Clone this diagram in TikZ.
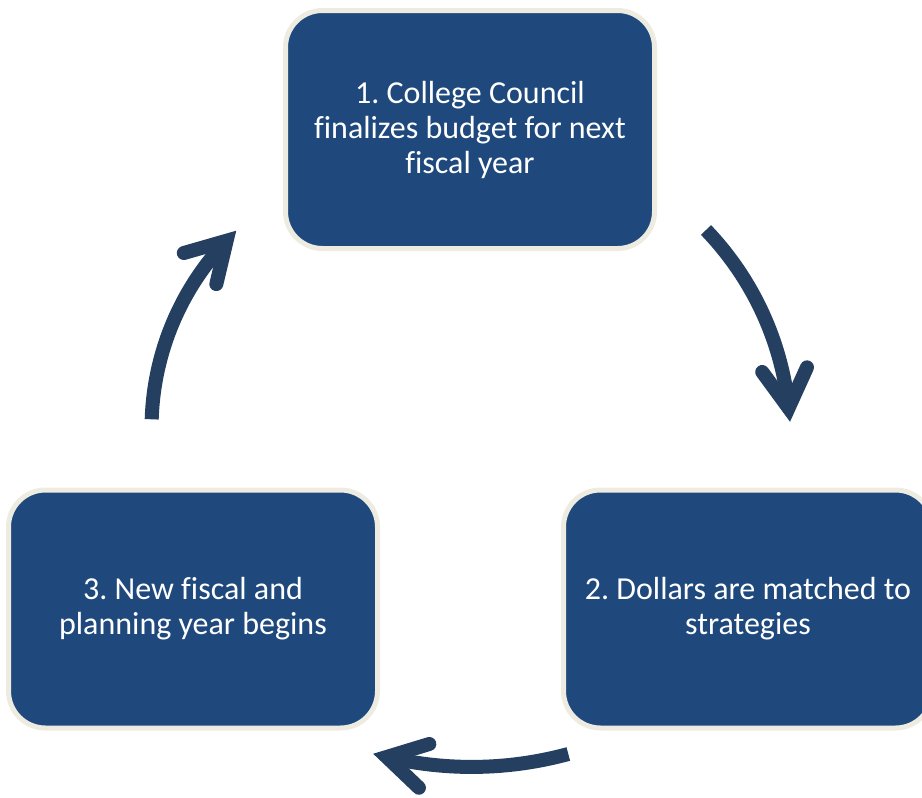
\documentclass[tikz,border=0pt]{standalone}
\usepackage{fontspec}
\setmainfont{Carlito}[Ligatures=CommonOff]
\usetikzlibrary{decorations.markings}
\definecolor{boxblue}{HTML}{1F497D}
\definecolor{boxrim}{HTML}{EEECE1}
\definecolor{arrowblue}{HTML}{243F60}
\frenchspacing
\begin{document}
\begin{tikzpicture}[x=1pt,y=-1pt,
  stage/.style={draw=boxrim, line width=5pt, fill=boxblue, rounded corners=37pt,
    minimum width=369pt, minimum height=238pt, inner sep=0pt, text=white,
    align=center, font=\fontsize{32}{35}\selectfont\frenchspacing},
  chevron/.style={draw=arrowblue, line width=14pt, line cap=round, line join=miter, miter limit=10},
  cycarrow/.style={draw=arrowblue, line width=14pt, line cap=butt, postaction={decorate},
    decoration={markings, mark=at position 1 with {\draw[chevron] (-38.5pt,22.5pt) -- (0pt,0pt) -- (-38.5pt,-22.5pt);}}}
]
\useasboundingbox (0,0) rectangle (922,798);
\clip (0,0) rectangle (922,798);
\fill[white] (0,0) rectangle (922,798);

\node[stage] (s1) at (470,129.5) {1. College Council\\finalizes budget for next\\fiscal year};
\node[stage] (s2) at (748,609) {2. Dollars are matched to\\strategies};
\node[stage] (s3) at (193,609) {3. New fiscal and\\planning year begins};

\coordinate (r0) at (706,230);
\coordinate (b0) at (568.3,754);
\coordinate (l0) at (151.7,419.3);

\draw[cycarrow] (r0) arc[start angle=43.87, end angle=5.92, radius=301.7pt];
\draw[cycarrow] (b0) arc[start angle=-74.77, end angle=-103.35, radius=368pt];
\draw[cycarrow] (l0) arc[start angle=178.16, end angle=136.3, radius=271.1pt];
\end{tikzpicture}
\end{document}
